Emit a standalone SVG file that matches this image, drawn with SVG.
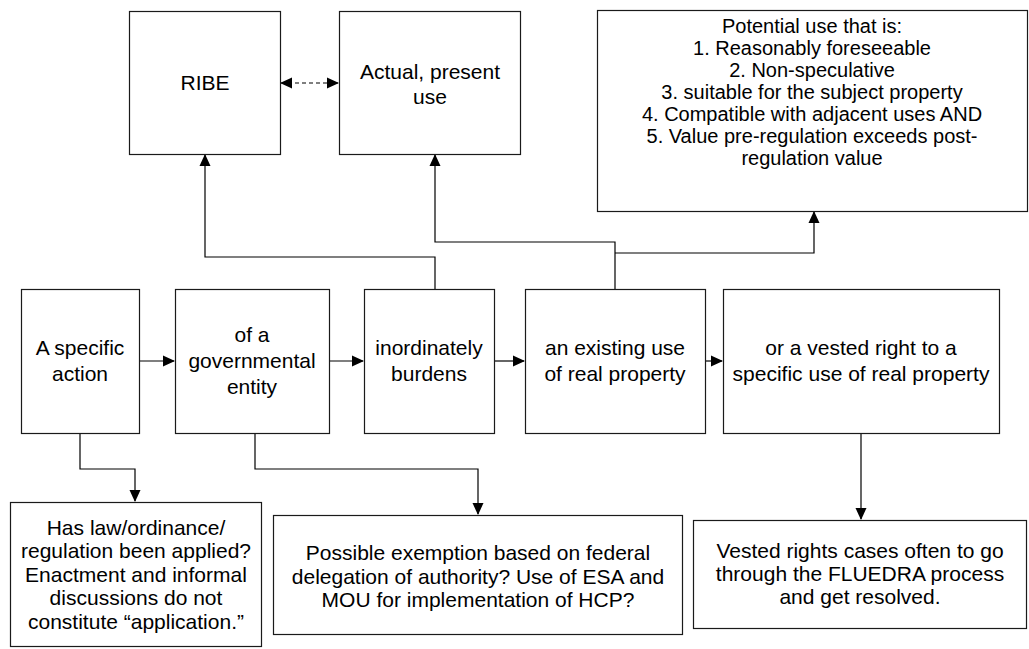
<svg xmlns="http://www.w3.org/2000/svg" width="1029" height="649" viewBox="0 0 1029 649">
<style>
.box{fill:#fff;stroke:#1a1a1a;stroke-width:1.2}
.t{font-family:"Liberation Sans",Arial,sans-serif;font-size:21px;fill:#000;text-anchor:middle}
.tp{font-family:"Liberation Sans",Arial,sans-serif;font-size:20px;fill:#000;text-anchor:middle}
.c{fill:none;stroke:#000;stroke-width:1.2}
.d{fill:none;stroke:#000;stroke-width:1.2;stroke-dasharray:4 3}
</style>
<defs>
<marker id="ah" markerUnits="userSpaceOnUse" markerWidth="12" markerHeight="12" refX="11" refY="6" orient="auto-start-reverse" viewBox="0 0 12 12">
<path d="M0,0.5 L12,6 L0,11.5 Z" fill="#000"/>
</marker>
</defs>
<rect width="1029" height="649" fill="#fff"/>
<g id="connectors">
<path class="d" d="M281,83 L338,83" marker-start="url(#ah)" marker-end="url(#ah)"/>
<path class="c" d="M435,289 L435,257 L205,257 L205,155" marker-end="url(#ah)"/>
<path class="c" d="M615,289 L615,242 L435,242 L435,155" marker-end="url(#ah)"/>
<path class="c" d="M615,253 L814,253 L814,212" marker-end="url(#ah)"/>
<path class="c" d="M139,361 L174,361" marker-end="url(#ah)"/>
<path class="c" d="M329,361 L363,361" marker-end="url(#ah)"/>
<path class="c" d="M494,361 L524,361" marker-end="url(#ah)"/>
<path class="c" d="M706,361 L722,361" marker-end="url(#ah)"/>
<path class="c" d="M80,433 L80,469 L135,469 L135,501" marker-end="url(#ah)"/>
<path class="c" d="M255,433 L255,469 L478,469 L478,514" marker-end="url(#ah)"/>
<path class="c" d="M861,433 L861,519" marker-end="url(#ah)"/>
</g>
<g id="ribe">
<rect class="box" x="129.5" y="11.5" width="151" height="143"/>
<text class="t" x="205" y="90">RIBE</text>
</g>
<g id="actual">
<rect class="box" x="339.5" y="11.5" width="181" height="143"/>
<text class="t" x="430" y="79">Actual, present</text>
<text class="t" x="430" y="104">use</text>
</g>
<g id="potential">
<rect class="box" x="597.5" y="10.5" width="430" height="201"/>
<text class="tp" x="812" y="33">Potential use that is:</text>
<text class="tp" x="812" y="55">1. Reasonably foreseeable</text>
<text class="tp" x="812" y="77">2. Non-speculative</text>
<text class="tp" x="812" y="99">3. suitable for the subject property</text>
<text class="tp" x="812" y="121">4. Compatible with adjacent uses AND</text>
<text class="tp" x="812" y="143">5. Value pre-regulation exceeds post-</text>
<text class="tp" x="812" y="165">regulation value</text>
</g>
<g id="action">
<rect class="box" x="21.5" y="289.5" width="118" height="144"/>
<text class="t" x="80" y="355">A specific</text>
<text class="t" x="80" y="381">action</text>
</g>
<g id="entity">
<rect class="box" x="175.5" y="289.5" width="154" height="144"/>
<text class="t" x="252" y="342">of a</text>
<text class="t" x="252" y="368">governmental</text>
<text class="t" x="252" y="394">entity</text>
</g>
<g id="burdens">
<rect class="box" x="364.5" y="289.5" width="130" height="144"/>
<text class="t" x="429" y="355">inordinately</text>
<text class="t" x="429" y="381">burdens</text>
</g>
<g id="existing">
<rect class="box" x="525.5" y="289.5" width="180" height="144"/>
<text class="t" x="615" y="355">an existing use</text>
<text class="t" x="615" y="381">of real property</text>
</g>
<g id="vested">
<rect class="box" x="723.5" y="289.5" width="276" height="144"/>
<text class="t" x="861" y="355">or a vested right to a</text>
<text class="t" x="861" y="381">specific use of real property</text>
</g>
<g id="applied">
<rect class="box" x="10.5" y="502.5" width="251" height="144"/>
<text class="t" x="136" y="535">Has law/ordinance/</text>
<text class="t" x="136" y="558">regulation been applied?</text>
<text class="t" x="136" y="582">Enactment and informal</text>
<text class="t" x="136" y="605">discussions do not</text>
<text class="t" x="136" y="629">constitute “application.”</text>
</g>
<g id="exemption">
<rect class="box" x="273.5" y="515.5" width="409" height="119"/>
<text class="t" x="478" y="560">Possible exemption based on federal</text>
<text class="t" x="478" y="584">delegation of authority? Use of ESA and</text>
<text class="t" x="478" y="607">MOU for implementation of HCP?</text>
</g>
<g id="fluedra">
<rect class="box" x="693.5" y="520.5" width="333" height="108"/>
<text class="t" x="860" y="558">Vested rights cases often to go</text>
<text class="t" x="860" y="581">through the FLUEDRA process</text>
<text class="t" x="860" y="604">and get resolved.</text>
</g>
</svg>
